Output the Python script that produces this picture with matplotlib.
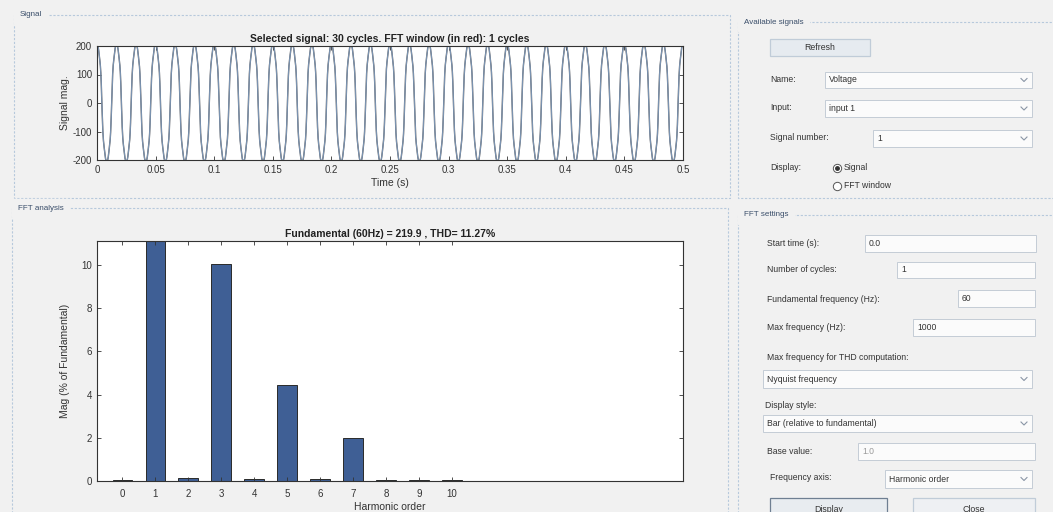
import numpy as np
import matplotlib
matplotlib.use("Agg")
import matplotlib.pyplot as plt
from matplotlib.patches import Rectangle
from matplotlib.lines import Line2D
from matplotlib.transforms import Affine2D

# values
harmonic_order = [0, 1, 2, 3, 4, 5, 6, 7, 8, 9, 10]
harmonic_mag = [0.05, 100, 0.15, 10.05, 0.1, 4.45, 0.07, 1.98, 0.05, 0.04, 0.04]
fundamental = 219.9
f0 = 60
thd = 11.27
n_cycles = 30
t_end = 0.5
time_ticks = [0, 0.05, 0.1, 0.15, 0.2, 0.25, 0.3, 0.35, 0.4, 0.45, 0.5]
sig_ticks = [-200, -100, 0, 100, 200]
mag_ticks = [0, 2, 4, 6, 8, 10]

W, H = 1053, 512
plt.rcParams['font.family'] = ['Liberation Sans', 'DejaVu Sans']
plt.rcParams['axes.unicode_minus'] = False

fig = plt.figure(figsize=(W / 100, H / 100), dpi=100, facecolor='#f1f1f1')
px = Affine2D().scale(1 / W, -1 / H).translate(0, 1) + fig.transFigure


def ax_rect(x0, y0, x1, y1):
    return [x0 / W, 1 - y1 / H, (x1 - x0) / W, (y1 - y0) / H]


def style_axes(ax):
    ax.tick_params(direction='in', top=True, right=True, length=3,
                   labelsize=7, colors='#333333', width=0.6)
    for s in ax.spines.values():
        s.set_color('#333333')
        s.set_linewidth(0.8)


# signal rebuilt from the main harmonics
t = np.linspace(0, t_end, 4000)
sig = np.zeros_like(t)
for h, m in zip(harmonic_order, harmonic_mag):
    if m > 1:
        sign = (-1) ** ((h - 1) // 2)
        sig += sign * fundamental * m / 100 * np.cos(2 * np.pi * h * f0 * t)

ax1 = fig.add_axes(ax_rect(97, 46, 683, 160))
ax1.plot(t, sig, color='#4a4f58', lw=1.0)
ax1.plot(t, sig, color='#8fb0d6', lw=0.5)
ax1.set_xlim(0, t_end)
ax1.set_ylim(-200, 200)
ax1.set_xticks(time_ticks)
ax1.set_xticklabels(['%g' % v for v in time_ticks])
ax1.set_yticks(sig_ticks)
ax1.set_title('Selected signal: %d cycles. FFT window (in red): 1 cycles' % n_cycles,
              fontsize=7.5, fontweight='bold', color='#222222', pad=3)
ax1.set_xlabel('Time (s)', fontsize=7.5, color='#333333', labelpad=2)
ax1.set_ylabel('Signal mag.', fontsize=7.5, color='#333333', labelpad=2)
style_axes(ax1)

ax2 = fig.add_axes(ax_rect(97, 241, 683, 481))
ax2.bar(harmonic_order, harmonic_mag, width=0.58, color='#3f5f95',
        edgecolor='#2a2a2a', linewidth=0.7)
ax2.set_xlim(-0.76, 17)
ax2.set_ylim(0, 11.1)
ax2.set_xticks(harmonic_order)
ax2.set_yticks(mag_ticks)
ax2.set_title('Fundamental (%dHz) = %.1f , THD= %.2f%%' % (f0, fundamental, thd),
              fontsize=7.5, fontweight='bold', color='#222222', pad=3)
ax2.set_xlabel('Harmonic order', fontsize=7.5, color='#333333', labelpad=2)
ax2.set_ylabel('Mag (% of Fundamental)', fontsize=7.5, color='#333333', labelpad=8)
style_axes(ax2)
ax2.tick_params(axis='x', pad=6)


# GUI frame around the plots
def panel(x0, y0, x1, y1, title):
    fig.add_artist(Rectangle((x0, y0), x1 - x0, y1 - y0, transform=px, fill=False,
                             edgecolor='#b7c9dc', lw=0.8, ls=(0, (2, 1.5))))
    fig.text(x0 + 6, y0, title, transform=px, fontsize=5.8, color='#3a4e6a',
             va='center', ha='left', backgroundcolor='#f1f1f1')


def label(x, y, s, color='#333333'):
    fig.text(x, y, s, transform=px, fontsize=6.2, color=color, va='center', ha='left')


def box(x0, y0, x1, y1, s='', combo=False, color='#333333'):
    fig.add_artist(Rectangle((x0, y0), x1 - x0, y1 - y0, transform=px,
                             facecolor='#fbfbfb', edgecolor='#c4ccd6', lw=0.7))
    if s:
        label(x0 + 4, (y0 + y1) / 2, s, color)
    if combo:
        cx, cy = x1 - 8, (y0 + y1) / 2
        fig.add_artist(Line2D([cx - 3, cx, cx + 3], [cy - 1.5, cy + 1.5, cy - 1.5],
                              transform=px, color='#8a96a6', lw=0.8))


def button(x0, y0, x1, y1, s, edge='#9aa8b8', face='#e4e9ef'):
    fig.add_artist(Rectangle((x0, y0), x1 - x0, y1 - y0, transform=px,
                             facecolor=face, edgecolor=edge, lw=0.9))
    fig.text((x0 + x1) / 2, (y0 + y1) / 2, s, transform=px, fontsize=6.3,
             color='#333333', va='center', ha='center')


def radio(x, y, s, on):
    fig.add_artist(Line2D([x], [y], transform=px, marker='o', ms=6,
                          mfc='white', mec='#555555', mew=0.7))
    if on:
        fig.add_artist(Line2D([x], [y], transform=px, marker='o', ms=2.5,
                              mfc='#333333', mec='#333333'))
    label(x + 7, y, s)


panel(14, 15, 730, 198, 'Signal')
panel(12, 208, 728, 515, 'FFT analysis')
panel(738, 22, 1060, 198, 'Available signals')
panel(738, 215, 1060, 515, 'FFT settings')

button(770, 39, 870, 56, 'Refresh', edge='#c0ccd8', face='#e6ebf0')
label(770, 80, 'Name:')
box(825, 72, 1032, 88, 'Voltage', combo=True)
label(770, 108, 'Input:')
box(825, 100, 1032, 117, 'input 1', combo=True)
label(770, 138, 'Signal number:')
box(873, 130, 1032, 147, '1', combo=True)
label(770, 168, 'Display:')
radio(837, 168, 'Signal', True)
radio(837, 186, 'FFT window', False)

label(767, 243, 'Start time (s):')
box(865, 235, 1036, 252, '0.0')
label(767, 270, 'Number of cycles:')
box(897, 262, 1035, 278, '1')
label(767, 299, 'Fundamental frequency (Hz):')
box(958, 290, 1035, 307, '60')
label(767, 328, 'Max frequency (Hz):')
box(913, 319, 1035, 336, '1000')
label(767, 358, 'Max frequency for THD computation:')
box(763, 370, 1032, 388, 'Nyquist frequency', combo=True)
label(765, 405, 'Display style:')
box(763, 415, 1032, 432, 'Bar (relative to fundamental)', combo=True)
label(767, 451, 'Base value:')
box(858, 443, 1035, 460, '1.0', color='#9a9a9a')
label(770, 478, 'Frequency axis:')
box(885, 470, 1032, 488, 'Harmonic order', combo=True)
button(770, 498, 887, 520, 'Display', edge='#6f7f92', face='#e8ecf0')
button(913, 498, 1035, 520, 'Close', edge='#c0ccd8', face='#eef0f3')

fig.savefig('out.png', dpi=100, facecolor=fig.get_facecolor())
